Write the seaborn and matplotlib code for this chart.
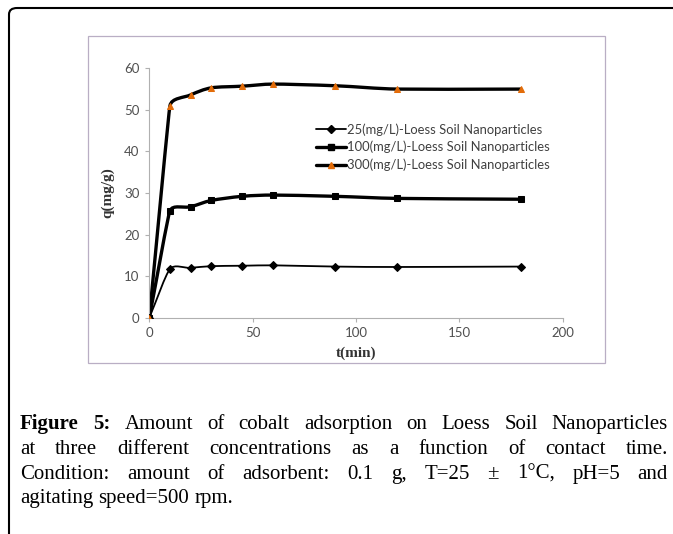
import numpy as np
import matplotlib
matplotlib.use("Agg")
import matplotlib.pyplot as plt
import seaborn as sns
from matplotlib.path import Path
from matplotlib.patches import PathPatch, FancyBboxPatch, Rectangle
from matplotlib.lines import Line2D

sns.set_theme(style="white")

# data
time_min = [0, 10, 20, 30, 45, 60, 90, 120, 180]
q_25 = [0, 11.7, 12.0, 12.4, 12.5, 12.6, 12.3, 12.2, 12.3]
q_100 = [0, 25.7, 26.7, 28.2, 29.2, 29.5, 29.2, 28.7, 28.5]
q_300 = [0, 51.0, 53.6, 55.3, 55.7, 56.2, 55.8, 55.0, 55.0]
labels = ["25(mg/L)-Loess Soil Nanoparticles",
          "100(mg/L)-Loess Soil Nanoparticles",
          "300(mg/L)-Loess Soil Nanoparticles"]

caption_lines = [
    "Amount of cobalt adsorption on Loess Soil Nanoparticles",
    "at three different concentrations as a function of contact time.",
    "Condition: amount of adsorbent: 0.1 g, T=25 \u00b1 1\u00b0C, pH=5 and",
    "agitating speed=500 rpm.",
]

W, H = 673, 534
fig = plt.figure(figsize=(W / 100, H / 100), dpi=100)
fig.patch.set_facecolor("white")

# page frame (rounded top-left corner) and chart box
frame = FancyBboxPatch((9 / W, -0.1), 1.2, 1 - 8 / H + 0.1,
                       boxstyle="round,pad=0,rounding_size=0.012",
                       transform=fig.transFigure, fill=False,
                       edgecolor="black", lw=1.5)
fig.add_artist(frame)
fig.add_artist(Rectangle((88 / W, 1 - 363 / H), (605 - 88) / W, (363 - 36) / H,
                         transform=fig.transFigure, fill=False,
                         edgecolor="#b9aec4", lw=0.9))

ax_w, ax_h = 413.4, 249.4
ax = fig.add_axes([149.3 / W, 216.3 / H, ax_w / W, ax_h / H])
sx, sy = ax_w / 200, ax_h / 60


def smooth_path(x, y, k=0.35):
    # Excel-like smoothed line: cubic Bezier, handles limited by the shorter neighbouring chord
    pts = np.column_stack([np.array(x) * sx, np.array(y) * sy]).astype(float)
    n = len(pts)
    chords = [np.hypot(*(pts[i + 1] - pts[i])) for i in range(n - 1)]
    tang, hlen = [], []
    for i in range(n):
        a = pts[max(i - 1, 0)]
        b = pts[min(i + 1, n - 1)]
        d = b - a
        tang.append(d / np.hypot(*d))
        near = [chords[j] for j in (i - 1, i) if 0 <= j < n - 1]
        hlen.append(min(near) * k)
    verts = [pts[0]]
    codes = [Path.MOVETO]
    for i in range(n - 1):
        p1, p2 = pts[i], pts[i + 1]
        verts += [p1 + tang[i] * hlen[i], p2 - tang[i + 1] * hlen[i + 1], p2]
        codes += [Path.CURVE4] * 3
    verts = np.array(verts) / [sx, sy]
    return Path(verts, codes)


series = [
    (q_25, "D", "black", 1.3, 4.5),
    (q_100, "s", "black", 2.4, 5),
    (q_300, "^", "#e36c09", 2.4, 5),
]
handles = []
for (q, mk, mcol, lw, ms), lab in zip(series, labels):
    ax.add_patch(PathPatch(smooth_path(time_min, q), fill=False,
                           edgecolor="black", lw=lw, zorder=2))
    sns.lineplot(x=time_min, y=q, ax=ax, marker=mk, markersize=ms,
                 markerfacecolor=mcol, markeredgecolor="black" if mcol == "black" else mcol,
                 linestyle="none", lw=0, zorder=3)
    handles.append(Line2D([], [], color="black", lw=lw, marker=mk, markersize=ms,
                          markerfacecolor=mcol,
                          markeredgecolor="black" if mcol == "black" else mcol))

ax.set_xlim(0, 200)
ax.set_ylim(0, 60)
ax.set_xticks([0, 50, 100, 150, 200])
ax.set_yticks([0, 10, 20, 30, 40, 50, 60])
for s in ["top", "right"]:
    ax.spines[s].set_visible(False)
for s in ["left", "bottom"]:
    ax.spines[s].set_color("#b0b0b0")
    ax.spines[s].set_linewidth(0.8)
ax.tick_params(axis="both", direction="out", length=3, width=0.8, color="#b0b0b0",
               labelsize=9.5, labelcolor="#505050", pad=4, left=True, bottom=True)
for t in ax.get_xticklabels() + ax.get_yticklabels():
    t.set_family("Lato")

ax.set_xlabel("t(min)", fontsize=11, fontweight="bold", family="Liberation Serif",
              color="#333333", labelpad=5)
ax.set_ylabel("q(mg/g)", fontsize=11, fontweight="bold", family="Liberation Serif",
              color="#333333", labelpad=7)

leg = ax.legend(handles, labels, loc="upper left",
                bbox_to_anchor=(316 / W, 1 - 123 / H), bbox_transform=fig.transFigure,
                frameon=False, borderaxespad=0, borderpad=0, handlelength=2.3,
                handletextpad=0.1, labelspacing=0.4,
                prop={"family": "Lato", "size": 9.4})
for t in leg.get_texts():
    t.set_color("#404040")

# caption, justified like the page
renderer = fig.canvas.get_renderer()
x0, x1 = 20, 668
baselines = [429, 454, 479, 503]
cap_size = 15


def word_width(s, weight="normal"):
    t = fig.text(0, 0, s, fontsize=cap_size, family="Liberation Serif", fontweight=weight)
    w = t.get_window_extent(renderer).width
    t.remove()
    return w


for i, (line, yb) in enumerate(zip(caption_lines, baselines)):
    words = line.split(" ")
    styles = ["normal"] * len(words)
    if i == 0:
        words = ["Figure", "5:"] + words
        styles = ["bold", "bold"] + styles
    widths = [word_width(w, st) for w, st in zip(words, styles)]
    if i < len(caption_lines) - 1:
        gap = (x1 - x0 - sum(widths)) / (len(words) - 1)
    else:
        gap = word_width("a b") - word_width("ab")
    x = x0
    for w, st, wd in zip(words, styles, widths):
        fig.text(x / W, 1 - yb / H, w, fontsize=cap_size, family="Liberation Serif",
                 fontweight=st, color="black", va="baseline", ha="left")
        x += wd + gap

fig.savefig("out.png", dpi=100)
